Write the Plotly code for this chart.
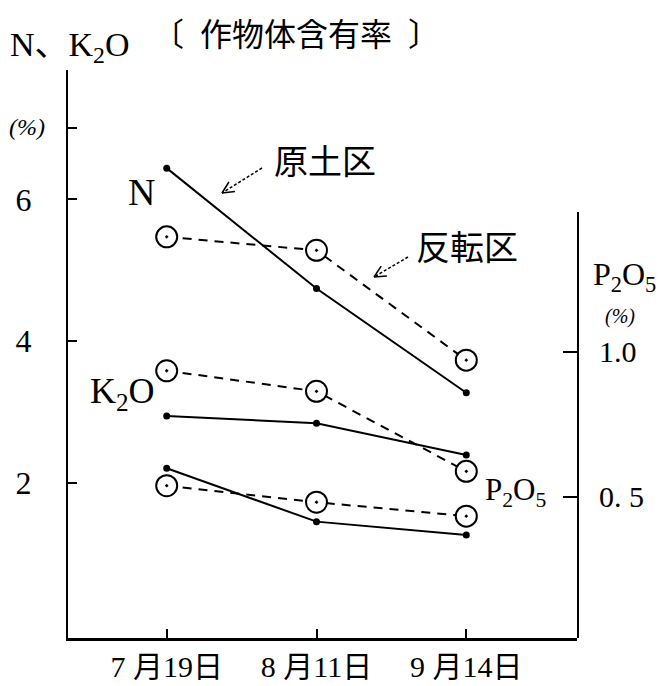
import math
import plotly.graph_objects as go

# ---- data ----
dates = ["7 月19日", "8 月11日", "9 月14日"]
n_genso = [6.44, 4.74, 3.27]        # N, 原土区 (solid)
n_hanten = [5.47, 5.28, 3.73]       # N, 反転区 (dashed)
k2o_genso = [2.94, 2.84, 2.39]      # K2O, 原土区
k2o_hanten = [3.58, 3.29, 2.16]     # K2O, 反転区
p2o5_genso = [0.598, 0.414, 0.368]  # P2O5, 原土区 (right axis)
p2o5_hanten = [0.538, 0.481, 0.433] # P2O5, 反転区 (right axis)

left_ticks = [2, 4, 6, 7]
left_ticktext = ["2", "4", "6", ""]
right_ticks = [0.5, 1.0]
right_ticktext = ["0. 5", "1.0"]

W, H = 666, 686
ML, MR, MT, MB = 68, 89, 70, 48
PW, PH = W - ML - MR, H - MT - MB

FONT = "Liberation Serif, Noto Sans CJK JP, serif"
NB = "\u00a0"


def px(x, y):
    """pixel position -> paper coords"""
    return (x - ML) / PW, (H - MB - y) / PH


solid_line = dict(color="black", width=2)
dash_line = dict(color="black", width=2, dash="9px,7px")
dot_marker = dict(symbol="circle", size=7, color="black")
ring_marker = dict(symbol="circle-dot", size=21, color="white",
                   line=dict(color="black", width=2))

fig = go.Figure()


def add_pair(genso, hanten, axis):
    fig.add_trace(go.Scatter(x=dates, y=hanten, yaxis=axis, mode="lines+markers",
                             line=dash_line, marker=ring_marker, cliponaxis=False,
                             showlegend=False))
    fig.add_trace(go.Scatter(x=dates, y=genso, yaxis=axis, mode="lines+markers",
                             line=solid_line, marker=dot_marker, cliponaxis=False,
                             showlegend=False))


add_pair(n_genso, n_hanten, "y")
add_pair(k2o_genso, k2o_hanten, "y")
add_pair(p2o5_genso, p2o5_hanten, "y2")

annotations = []


def label(text, x, y, size, xanchor="center", yanchor="middle"):
    xp, yp = px(x, y)
    annotations.append(dict(text=text, x=xp, y=yp, xref="paper", yref="paper",
                            showarrow=False, xanchor=xanchor, yanchor=yanchor,
                            font=dict(family=FONT, size=size, color="black")))


label("〔" + NB * 2 + "作物体含有率" + NB * 2 + "〕", 296, 35, 32)
label("N\u3001K<sub>2</sub>O", 70, 47, 34)
label("<i>(%)</i>", 27, 127, 24)
label("N", 141, 192, 38)
label("原土区", 325, 163, 34)
label("反転区", 467, 248, 34)
label("K<sub>2</sub>O", 122, 393, 36)
label("P<sub>2</sub>O<sub>5</sub>", 515, 492, 31)
label("P<sub>2</sub>O<sub>5</sub>", 624, 276, 32)
label("<i>(%)</i>", 620, 316, 20)

shapes = []


def arrow(tail, head):
    x0, y0 = px(*tail)
    x1, y1 = px(*head)
    shapes.append(dict(type="line", xref="paper", yref="paper", x0=x0, y0=y0,
                       x1=x1, y1=y1, line=dict(color="black", width=1.5, dash="3px,2px")))
    dx, dy = tail[0] - head[0], tail[1] - head[1]
    L = math.hypot(dx, dy)
    ux, uy = dx / L, dy / L
    for ang in (0.45, -0.45):
        wx = ux * math.cos(ang) - uy * math.sin(ang)
        wy = ux * math.sin(ang) + uy * math.cos(ang)
        ex, ey = px(head[0] + 13 * wx, head[1] + 13 * wy)
        shapes.append(dict(type="line", xref="paper", yref="paper", x0=x1, y0=y1,
                           x1=ex, y1=ey, line=dict(color="black", width=1.5)))


arrow((262, 168), (222, 193))
arrow((408, 257), (374, 277))

y_lo = (624.4 - (H - MB)) / 70.85
y_hi = (624.4 - MT) / 70.85
y2_lo = (641.7 - (H - MB)) / 290
y2_top_px = 212
y2_hi = (641.7 - y2_top_px) / 290
x_lo = (ML - 166.7) / 149.8
x_hi = (W - MR - 166.7) / 149.8

fig.update_layout(
    width=W, height=H,
    margin=dict(l=ML, r=MR, t=MT, b=MB, autoexpand=False),
    paper_bgcolor="white", plot_bgcolor="rgba(0,0,0,0)",
    font=dict(family=FONT, color="black"),
    xaxis=dict(type="category", range=[x_lo, x_hi], showline=True, linewidth=2.5,
               linecolor="black", ticks="inside", ticklen=9, tickwidth=1.5,
               tickcolor="black", showgrid=False, zeroline=False, anchor="y",
               automargin=False,
               tickfont=dict(size=30, family=FONT), ticklabelstandoff=0),
    yaxis=dict(range=[y_lo, y_hi], domain=[0, 1], showline=True, linewidth=2,
               linecolor="black", ticks="inside", ticklen=9, tickwidth=1.5,
               tickcolor="black", showgrid=False, zeroline=False, automargin=False,
               tickvals=left_ticks, ticktext=left_ticktext,
               tickfont=dict(size=32, family=FONT), ticklabelstandoff=28),
    yaxis2=dict(range=[y2_lo, y2_hi], domain=[0, (H - MB - y2_top_px) / PH],
                anchor="x", side="right", showline=True, linewidth=2,
                linecolor="black", ticks="inside", ticklen=14, tickwidth=1.5,
                tickcolor="black", showgrid=False, zeroline=False, automargin=False,
                tickvals=right_ticks, ticktext=right_ticktext,
                tickfont=dict(size=30, family=FONT), ticklabelstandoff=14),
    annotations=annotations,
    shapes=shapes,
)

fig.write_html("out.html")
